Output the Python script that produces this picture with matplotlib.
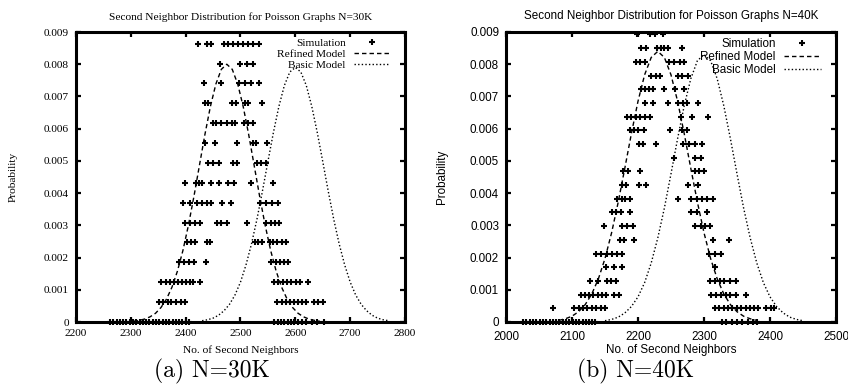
import matplotlib
matplotlib.use("Agg")
import matplotlib.pyplot as plt

# ---------------- data ----------------
x_ticks_30k = [2200, 2300, 2400, 2500, 2600, 2700, 2800]
x_ticks_40k = [2000, 2100, 2200, 2300, 2400, 2500]
y_ticks = [0, 0.001, 0.002, 0.003, 0.004, 0.005, 0.006, 0.007, 0.008, 0.009]
y_tick_labels = ["0", "0.001", "0.002", "0.003", "0.004", "0.005", "0.006", "0.007", "0.008", "0.009"]

# simulation histogram, N=30K: one list of x values per probability level
sim30_levels = [0, 0.000617, 0.001234, 0.001851, 0.002468, 0.003085, 0.003702, 0.004319,
                0.004936, 0.005553, 0.00617, 0.006787, 0.007404, 0.008021, 0.008638]
sim30_rows = [
    [2262, 2268, 2274, 2280, 2286, 2292, 2298, 2304, 2310, 2316, 2322, 2328, 2334, 2340, 2346,
     2352, 2358, 2364, 2370, 2376, 2382, 2388, 2394, 2400, 2406,
     2562, 2568, 2574, 2580, 2586, 2592, 2598, 2604, 2612, 2620, 2630, 2640, 2652],
    [2351, 2359, 2367, 2374, 2382, 2391, 2398, 2567, 2575, 2583, 2590, 2597, 2605, 2613, 2620, 2634, 2642, 2650],
    [2355, 2364, 2372, 2379, 2386, 2393, 2400, 2407, 2414, 2426, 2561, 2568, 2577, 2585, 2593, 2601, 2608, 2624],
    [2388, 2397, 2406, 2415, 2437, 2555, 2564, 2572, 2580, 2587],
    [2402, 2409, 2417, 2438, 2444, 2526, 2532, 2540, 2553, 2560, 2567, 2575, 2583],
    [2399, 2408, 2417, 2426, 2458, 2464, 2475, 2512, 2546, 2555, 2563, 2571],
    [2395, 2408, 2420, 2429, 2438, 2446, 2466, 2482, 2536, 2547, 2558, 2569],
    [2399, 2419, 2424, 2429, 2446, 2461, 2478, 2488, 2520, 2559],
    [2441, 2450, 2460, 2487, 2493, 2531, 2538, 2546],
    [2435, 2454, 2494, 2523, 2529, 2549],
    [2449, 2456, 2464, 2475, 2484, 2490, 2506, 2514, 2523],
    [2435, 2441, 2484, 2492, 2508, 2514, 2539],
    [2433, 2464, 2498, 2508, 2519, 2533],
    [2463, 2500, 2511, 2523],
    [2423, 2438, 2447, 2469, 2478, 2487, 2496, 2505, 2514, 2523, 2533],
]

# simulation histogram, N=40K
sim40_levels = [0, 0.000425, 0.00085, 0.001275, 0.0017, 0.002125, 0.00255, 0.002975, 0.0034,
                0.003825, 0.00425, 0.004675, 0.0051, 0.005525, 0.00595, 0.006375, 0.0068,
                0.007225, 0.00765, 0.008075, 0.0085, 0.008925]
sim40_rows = [
    [2026, 2031, 2036, 2041, 2046, 2051, 2056, 2061, 2066, 2071, 2076, 2081, 2086, 2091, 2096,
     2101, 2106, 2111, 2116, 2121, 2126, 2131, 2135, 2327, 2334, 2342, 2350, 2358, 2366, 2374, 2381],
    [2071, 2103, 2110, 2117, 2123, 2130, 2137, 2144, 2150, 2317, 2323, 2330, 2336, 2343, 2350,
     2356, 2363, 2369, 2376, 2382, 2394, 2401, 2406],
    [2113, 2119, 2126, 2132, 2139, 2145, 2152, 2163, 2171, 2310, 2318, 2325, 2333, 2340, 2348, 2363],
    [2127, 2140, 2153, 2159, 2166, 2309, 2316, 2324, 2331, 2339, 2349],
    [2151, 2163, 2175, 2316],
    [2136, 2144, 2153, 2160, 2168, 2176, 2308, 2316, 2325],
    [2172, 2179, 2194, 2314, 2338],
    [2149, 2176, 2184, 2193, 2287, 2295, 2301, 2309],
    [2160, 2167, 2174, 2188, 2281, 2289, 2305],
    [2168, 2175, 2181, 2188, 2261, 2281, 2289, 2297, 2304, 2314],
    [2176, 2182, 2201, 2212, 2276, 2291],
    [2178, 2185, 2203, 2286, 2293, 2300],
    [2254, 2287, 2296],
    [2202, 2208, 2227, 2268, 2278, 2287, 2297],
    [2188, 2194, 2200, 2209, 2248, 2266, 2274],
    [2184, 2190, 2197, 2203, 2210, 2218, 2265, 2282, 2306],
    [2210, 2223, 2246, 2261, 2268, 2274, 2291],
    [2204, 2210, 2217, 2223, 2239, 2256, 2270],
    [2220, 2227, 2233, 2260, 2267, 2275],
    [2197, 2203, 2210, 2247, 2254, 2264, 2270],
    [2205, 2212, 2229, 2235, 2240, 2245, 2266],
    [2198, 2218, 2226, 2238],
]

# model curves
refined30_x = [2305, 2315, 2325, 2335, 2345, 2355, 2365, 2375, 2385, 2395, 2405, 2415, 2425, 2435,
               2445, 2455, 2465, 2475, 2485, 2495, 2505, 2515, 2525, 2535, 2545, 2555, 2565, 2575,
               2585, 2595, 2605, 2615, 2625, 2635, 2645]
refined30_y = [0.00002, 0.00005, 0.00009, 0.00016, 0.00027, 0.00045, 0.00071, 0.00108, 0.00158,
               0.00222, 0.00300, 0.00389, 0.00485, 0.00581, 0.00668, 0.00738, 0.00784, 0.00800,
               0.00784, 0.00738, 0.00668, 0.00581, 0.00485, 0.00389, 0.00300, 0.00222, 0.00158,
               0.00108, 0.00071, 0.00045, 0.00027, 0.00016, 0.00009, 0.00005, 0.00002]
basic30_x = [2430, 2440, 2450, 2460, 2470, 2480, 2490, 2500, 2510, 2520, 2530, 2540, 2550, 2560,
             2570, 2580, 2590, 2600, 2610, 2620, 2630, 2640, 2650, 2660, 2670, 2680, 2690, 2700,
             2710, 2720, 2730, 2740, 2750, 2760, 2770]
basic30_y = [0.00004, 0.00007, 0.00012, 0.00021, 0.00035, 0.00055, 0.00084, 0.00124, 0.00177,
             0.00242, 0.00319, 0.00406, 0.00498, 0.00588, 0.00669, 0.00734, 0.00776, 0.00790,
             0.00776, 0.00734, 0.00669, 0.00588, 0.00498, 0.00406, 0.00319, 0.00242, 0.00177,
             0.00124, 0.00084, 0.00055, 0.00035, 0.00021, 0.00012, 0.00007, 0.00004]
refined40_x = [2080, 2090, 2100, 2110, 2120, 2130, 2140, 2150, 2160, 2170, 2180, 2190, 2200, 2210,
               2220, 2230, 2240, 2250, 2260, 2270, 2280, 2290, 2300, 2310, 2320, 2330, 2340, 2350,
               2360, 2370, 2380]
refined40_y = [0.00005, 0.00010, 0.00018, 0.00032, 0.00054, 0.00087, 0.00134, 0.00197, 0.00277,
               0.00372, 0.00477, 0.00585, 0.00685, 0.00767, 0.00821, 0.00840, 0.00821, 0.00767,
               0.00685, 0.00585, 0.00477, 0.00372, 0.00277, 0.00197, 0.00134, 0.00087, 0.00054,
               0.00032, 0.00018, 0.00010, 0.00005]
basic40_x = [2150, 2160, 2170, 2180, 2190, 2200, 2210, 2220, 2230, 2240, 2250, 2260, 2270, 2280,
             2290, 2300, 2310, 2320, 2330, 2340, 2350, 2360, 2370, 2380, 2390, 2400, 2410, 2420,
             2430, 2440, 2450]
basic40_y = [0.00004, 0.00008, 0.00015, 0.00028, 0.00048, 0.00078, 0.00122, 0.00183, 0.00261,
             0.00354, 0.00460, 0.00569, 0.00671, 0.00755, 0.00811, 0.00830, 0.00811, 0.00755,
             0.00671, 0.00569, 0.00460, 0.00354, 0.00261, 0.00183, 0.00122, 0.00078, 0.00048,
             0.00028, 0.00015, 0.00008, 0.00004]


def flatten(levels, rows):
    xs, ys = [], []
    for lev, row in zip(levels, rows):
        xs += row
        ys += [lev] * len(row)
    return xs, ys


def draw_panel(ax, family, title, sim, refined, basic, xticks, fs, ylpad, xtpad, xlpad):
    sx, sy = sim
    ax.plot(sx, sy, "+", color="k", ms=5, mew=1.5, clip_on=False, zorder=3, label="Simulation")
    ax.plot(refined[0], refined[1], color="k", lw=1.0, dashes=(3.2, 2.2), label="Refined Model")
    ax.plot(basic[0], basic[1], color="k", lw=1.0, dashes=(1.0, 1.6), label="Basic Model")

    ax.set_xlim(xticks[0], xticks[-1])
    ax.set_ylim(0, 0.009)
    ax.set_xticks(xticks)
    ax.set_xticklabels([str(t) for t in xticks], fontfamily=family, fontsize=fs)
    ax.set_yticks(y_ticks)
    ax.set_yticklabels(y_tick_labels, fontfamily=family, fontsize=fs)
    ax.tick_params(direction="in", length=3.5, width=1.6, top=True, right=True, pad=5)
    ax.tick_params(axis="x", pad=xtpad)
    for sp in ax.spines.values():
        sp.set_linewidth(2.2)

    ax.set_title(title, fontfamily=family, fontsize=fs, pad=9)
    ax.set_xlabel("No. of Second Neighbors", fontfamily=family, fontsize=fs, labelpad=xlpad)
    ax.set_ylabel("Probability", fontfamily=family, fontsize=fs, labelpad=ylpad)

    ax.legend(loc="upper right", bbox_to_anchor=(0.955, 0.978), frameon=False, markerfirst=False,
              prop={"family": family, "size": fs}, handlelength=3.2, handletextpad=0.7,
              labelspacing=0.08, borderpad=0, borderaxespad=0, numpoints=1)


fig = plt.figure(figsize=(8.48, 3.91), dpi=100, facecolor="white")
ax1 = fig.add_axes([76 / 848, 69 / 391, 329 / 848, 290 / 391])
ax2 = fig.add_axes([506 / 848, 69 / 391, 330 / 848, 290 / 391])

draw_panel(ax1, "Liberation Serif", "Second Neighbor Distribution for Poisson Graphs N=30K",
           flatten(sim30_levels, sim30_rows), (refined30_x, refined30_y), (basic30_x, basic30_y),
           x_ticks_30k, 8.2, 19, 5, 5)
draw_panel(ax2, "Liberation Sans", "Second Neighbor Distribution for Poisson Graphs N=40K",
           flatten(sim40_levels, sim40_rows), (refined40_x, refined40_y), (basic40_x, basic40_y),
           x_ticks_40k, 8.4, 16, 6.5, 1)

# sub-figure captions (LaTeX style)
fig.text(212 / 848, 1 - 371 / 391, "(a) N=30K", ha="center", va="center", fontfamily="cmr10", fontsize=17)
fig.text(636 / 848, 1 - 371 / 391, "(b) N=40K", ha="center", va="center", fontfamily="cmr10", fontsize=17)

fig.savefig("out.png", dpi=100)
